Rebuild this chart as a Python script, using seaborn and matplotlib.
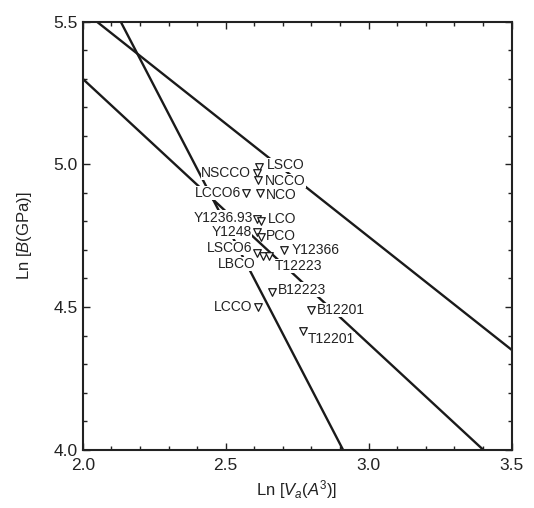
import numpy as np
import pandas as pd
import seaborn as sns
import matplotlib.pyplot as plt
from matplotlib.ticker import MultipleLocator

# compounds: Ln volume per atom vs Ln bulk modulus
names = ['LSCO', 'NSCCO', 'NCCO', 'LCCO6', 'NCO', 'Y1236.93', 'LCO', 'Y1248', 'PCO',
         'LSCO6', 'LBCO', 'T12223', 'Y12366', 'B12223', 'LCCO', 'B12201', 'T12201']
ln_v = [2.617, 2.61, 2.613, 2.571, 2.62, 2.61, 2.624, 2.61, 2.624,
        2.61, 2.631, 2.652, 2.705, 2.662, 2.613, 2.80, 2.77]
ln_b = [4.992, 4.97, 4.946, 4.90, 4.90, 4.81, 4.80, 4.764, 4.746,
        4.69, 4.68, 4.68, 4.70, 4.554, 4.50, 4.49, 4.417]

# label placement (pixels from the marker)
lab_dx = [8, -6, 7, -5, 6, -4, 7, -5, 5, -5, -8, 6, 7, 6, -6, 5, 5]
lab_dy = [2, 0, -1, 0, -2, 1, 2, 0, 1, 5, -8, -10, 0, 2, 0, 0, -8]

# straight reference lines (end points)
line_id = ['A', 'A', 'C', 'C', 'D', 'D']
line_x = [2.133, 2.91, 2.0, 3.40, 2.05, 3.5]
line_y = [5.5, 4.0, 5.30, 4.0, 5.5, 4.35]

pts = pd.DataFrame({'name': names, 'lnV': ln_v, 'lnB': ln_b, 'dx': lab_dx, 'dy': lab_dy})
lines = pd.DataFrame({'id': line_id, 'x': line_x, 'y': line_y})

sns.set_style("ticks")
plt.rcParams['font.family'] = ['Liberation Sans', 'DejaVu Sans']
plt.rcParams['mathtext.fontset'] = 'custom'
plt.rcParams['mathtext.it'] = 'Liberation Sans:italic'
plt.rcParams['mathtext.rm'] = 'Liberation Sans'

fig, ax = plt.subplots(figsize=(5.34, 5.08), dpi=100)
fig.subplots_adjust(left=0.155, right=0.958, top=0.957, bottom=0.115)

sns.lineplot(data=lines, x='x', y='y', units='id', estimator=None, color='#1a1a1a',
             lw=1.7, ax=ax, sort=False, zorder=1)
sns.scatterplot(data=pts, x='lnV', y='lnB', marker='v', s=30, facecolor='white',
                edgecolor='#1a1a1a', linewidth=0.9, ax=ax, zorder=4)

for _, r in pts.iterrows():
    ax.annotate(r['name'], (r.lnV, r.lnB), xytext=(r.dx, r.dy), textcoords='offset pixels',
                ha='left' if r.dx > 0 else 'right', va='center', fontsize=10, color='#222',
                bbox=dict(facecolor='white', edgecolor='none', pad=0.1), zorder=3)

ax.set_xlim(2.0, 3.5)
ax.set_ylim(4.0, 5.5)
ax.xaxis.set_major_locator(MultipleLocator(0.5))
ax.xaxis.set_minor_locator(MultipleLocator(0.1))
ax.yaxis.set_major_locator(MultipleLocator(0.5))
ax.yaxis.set_minor_locator(MultipleLocator(0.1))
ax.xaxis.set_major_formatter(plt.FormatStrFormatter('%.1f'))
ax.yaxis.set_major_formatter(plt.FormatStrFormatter('%.1f'))
ax.tick_params(which='both', direction='in', top=True, right=True, labelsize=12.5,
               color='#222', labelcolor='#222')
ax.tick_params(which='major', length=5, width=1)
ax.tick_params(which='minor', length=3, width=1)
ax.tick_params(axis='x', which='major', pad=6)
for s in ax.spines.values():
    s.set_linewidth(1.5)
    s.set_color('#222')

ax.set_xlabel(r'Ln [$V_a(A^3)$]', fontsize=12, color='#222', labelpad=4)
ax.set_ylabel(r'Ln [$B$(GPa)]', fontsize=12, color='#222', labelpad=14)

fig.savefig('out.png', dpi=100)
